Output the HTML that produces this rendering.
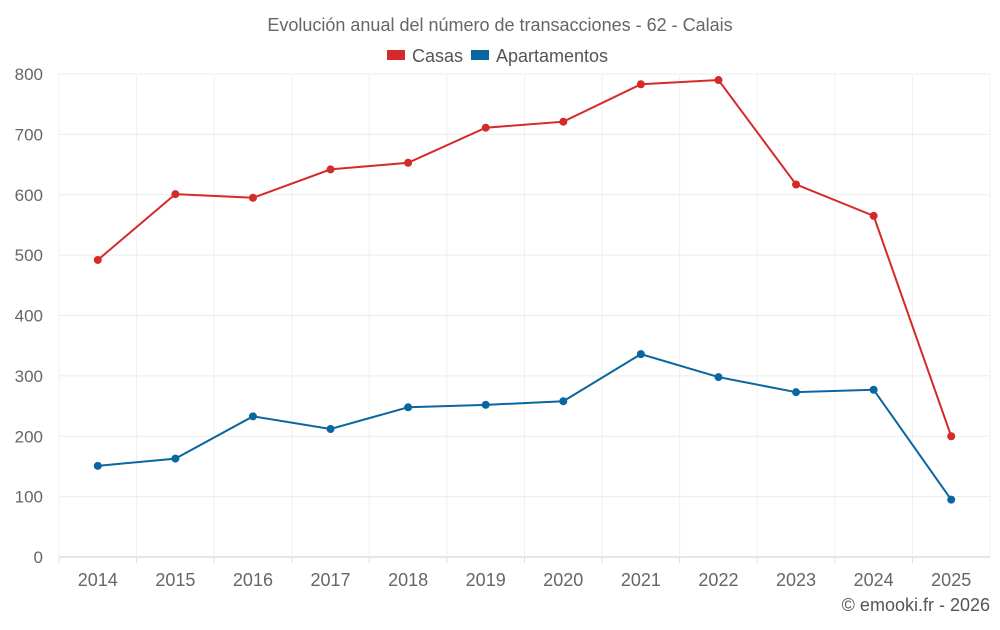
<!DOCTYPE html>
<html><head><meta charset="utf-8">
<style>
body{margin:0;background:#fff;font-family:"Liberation Sans",sans-serif;}
svg text{font-family:"Liberation Sans",sans-serif;}
</style></head>
<body>
<svg id="chart" width="1000" height="625">
<text x="500" y="31" text-anchor="middle" font-size="18" fill="#666">Evolución anual del número de transacciones - 62 - Calais</text>
<g>
<g><rect x="387" y="50" width="18" height="10" fill="#d42a2a"/><text x="412" y="62" font-size="18" fill="#555">Casas</text></g>
<g><rect x="471" y="50" width="18" height="10" fill="#0a66a0"/><text x="496" y="62" font-size="18" fill="#555">Apartamentos</text></g>
</g>
<g id="grid"></g><g id="axes"></g><g id="series"></g>
<text x="990" y="611" text-anchor="end" font-size="18" fill="#555">© emooki.fr - 2026</text>
</svg>
<script>
const years=["2014","2015","2016","2017","2018","2019","2020","2021","2022","2023","2024","2025"];
const casas=[492,601,595,642,653,711,721,783,790,617,565,200];
const apartamentos=[151,163,233,212,248,252,258,336,298,273,277,95];
const yTicks=[0,100,200,300,400,500,600,700,800];
const NS="http://www.w3.org/2000/svg";
const L=59,R=990,T=74,B=557,yMax=800;
const bw=(R-L)/years.length;
const x=i=>L+bw*(i+0.5);
const y=v=>B-(v/yMax)*(B-T);
function mk(tag,attrs,parent){const e=document.createElementNS(NS,tag);for(const k in attrs)e.setAttribute(k,attrs[k]);parent.appendChild(e);return e;}
const grid=document.getElementById('grid'),axes=document.getElementById('axes'),series=document.getElementById('series');
yTicks.forEach(t=>{
 const l=mk('line',{x1:L,x2:R,y1:y(t),y2:y(t),stroke:t===0?'#ccc':'#ebebeb','stroke-width':1},grid);
 
 
 const tx=mk('text',{x:43,y:y(t)+6,'text-anchor':'end','font-size':17,fill:'#666'},axes);
 tx.textContent=t;
 
 
});
for(let i=0;i<=years.length;i++){
 const l=mk('line',{x1:L+bw*i,x2:L+bw*i,y1:T,y2:B,stroke:'#f0f0f0','stroke-width':1},grid);
 
 
}
years.forEach((yr,i)=>{
 const tk=mk('line',{x1:L+bw*i,x2:L+bw*i,y1:B,y2:B+6,stroke:'#ddd'},axes);
 
 
 const tx=mk('text',{x:x(i),y:586,'text-anchor':'middle','font-size':18,fill:'#666'},axes);
 tx.textContent=yr;
 
 
});
function draw(vals,color,name){
 const p=mk('polyline',{points:vals.map((v,i)=>x(i)+','+y(v)).join(' '),fill:'none',stroke:color,'stroke-width':2},series);
 
 
 vals.forEach((v,i)=>{
  const c=mk('circle',{cx:x(i),cy:y(v),r:4,fill:color},series);
  
  
 });
}
draw(casas,'#d42a2a','casas');
draw(apartamentos,'#0a66a0','apartamentos');
</script>
</body></html>
